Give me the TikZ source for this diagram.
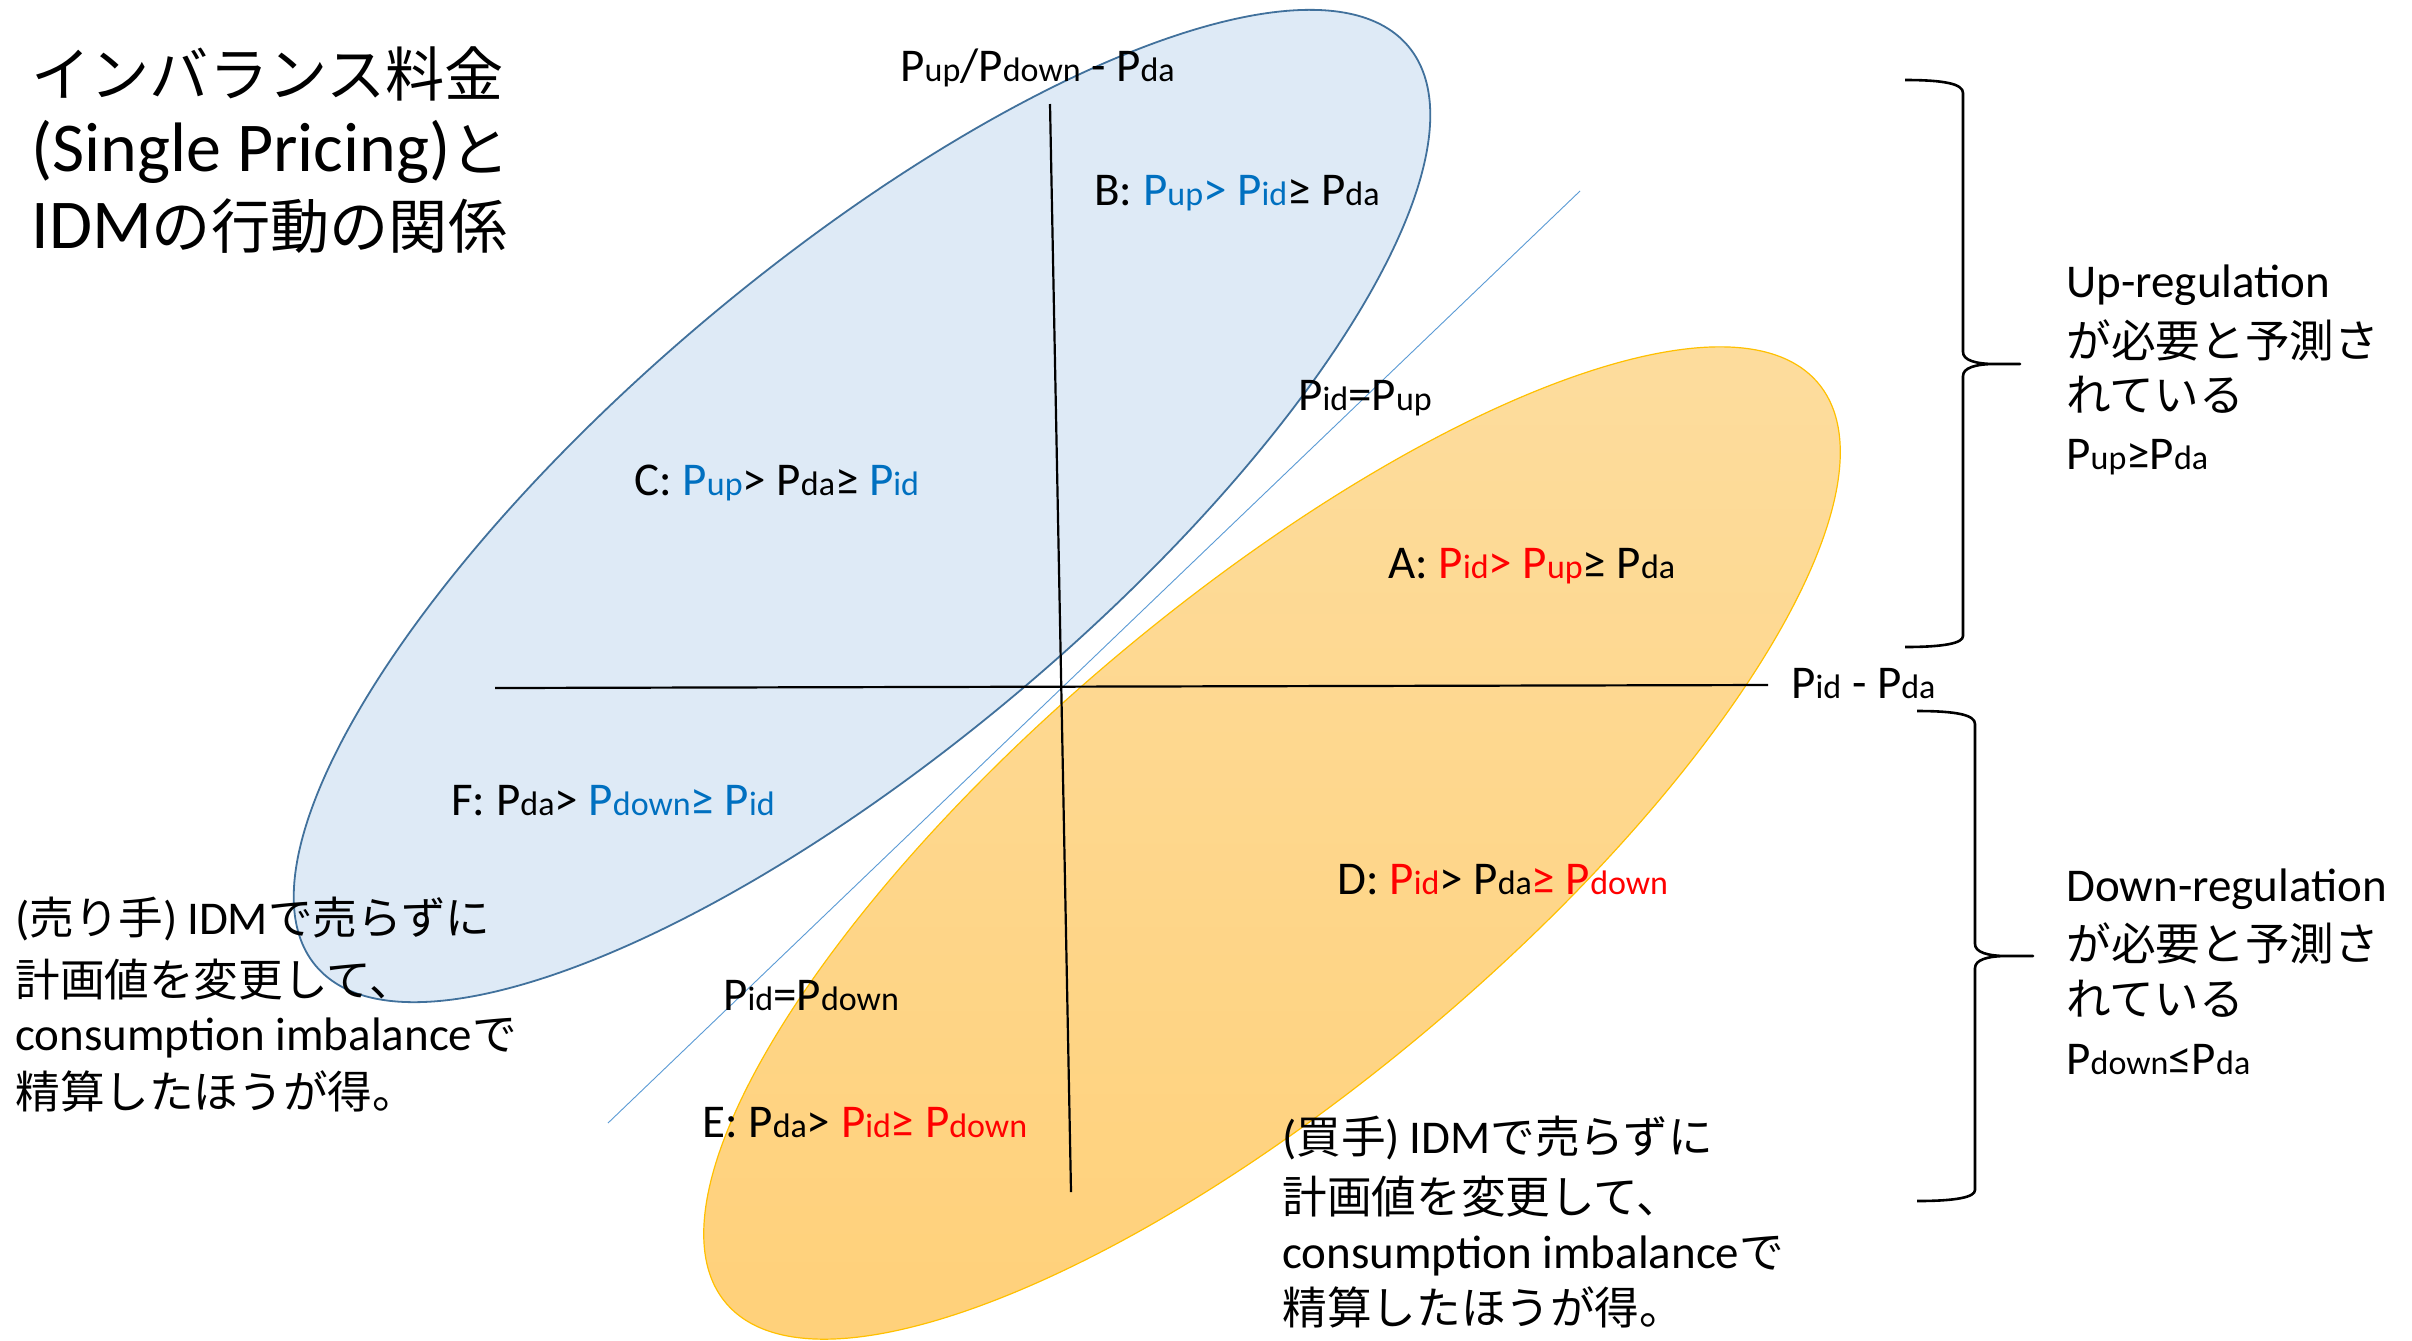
\documentclass[tikz,border=0pt]{standalone}
\usepackage{fontspec}
\setmainfont{Carlito}
\newfontfamily\jp{Noto Sans CJK JP}[Scale=0.95]
\newfontfamily\jpt{Noto Sans CJK JP}[Scale=0.846]
\definecolor{bfill}{HTML}{DEEAF6}
\definecolor{bline}{HTML}{41719C}
\definecolor{olight}{HTML}{FDDC9C}
\definecolor{odark}{HTML}{FFD17B}
\definecolor{oline}{HTML}{FFC000}
\definecolor{dline}{HTML}{5B9BD5}
\definecolor{tblue}{HTML}{0070C0}
\definecolor{tred}{HTML}{FF0000}
\newcommand\sbs[1]{{\fontsize{17pt}{20pt}\selectfont #1}}
\begin{document}
\begin{tikzpicture}[x=0.5pt,y=-0.5pt,
  lbl/.style={anchor=base west,inner sep=0pt,font=\fontsize{23.5pt}{28pt}\selectfont},
  ttl/.style={anchor=base west,inner sep=0pt,font=\fontsize{35pt}{42pt}\selectfont},
  axisline/.style={line width=1.1pt,black},
  brace/.style={line width=1.3pt,black,line join=round}]
\useasboundingbox (0,0) rectangle (2412,1340);
\fill[white] (0,0) rectangle (2412,1340);
% ellipses
\draw[bline,line width=0.9pt,fill=bfill,rotate around={40.1:(862,506)}]
  (862,506) ellipse [x radius=357pt,y radius=121.5pt];
\draw[oline,line width=0.6pt,top color=olight,bottom color=odark,rotate around={40.1:(1272,843)}]
  (1272,843) ellipse [x radius=357pt,y radius=121.5pt];
% diagonal line
\coordinate (d1) at (608,1123);
\coordinate (d2) at (1580,191);
\draw[dline,line width=0.45pt] (d1) -- (d2);
% axes
\coordinate (h1) at (495,688);
\coordinate (h2) at (1768,685);
\coordinate (v1) at (1050,104);
\coordinate (v2) at (1071,1192);
\draw[axisline] (h1) -- (h2);
\draw[axisline] (v1) -- (v2);
% braces
\draw[brace] (1905,80) .. controls (1945,80) and (1963,84) .. (1963,93)
  -- (1963,352) .. controls (1963,360) and (1975,364) .. (1995,364) -- (2020,364)
  -- (1995,364) .. controls (1975,364) and (1963,368) .. (1963,376)
  -- (1963,636) .. controls (1963,643) and (1945,647) .. (1905,647);
\draw[brace] (1917,711) .. controls (1957,711) and (1975,715) .. (1975,724)
  -- (1975,944) .. controls (1975,952) and (1987,956) .. (2007,956) -- (2033,956)
  -- (2007,956) .. controls (1987,956) and (1975,960) .. (1975,968)
  -- (1975,1190) .. controls (1975,1197) and (1957,1201) .. (1917,1201);
% title
\node[ttl] (t1) at (31,96) {\jpt インバランス料金};
\node[ttl] (t2) at (31,171) {(Single Pricing){\jpt と}};
\node[ttl] (t3) at (31,248) {IDM{\jpt の行動の関係}};
% axis labels
\node[lbl] (ylab) at (900,81) {P\sbs{up}/P\sbs{down} - P\sbs{da}};
\node[lbl] (xlab) at (1791,698) {P\sbs{id} - P\sbs{da}};
\node[lbl] (lup) at (1298,410) {P\sbs{id}=P\sbs{up}};
\node[lbl] (ldown) at (723,1010) {P\sbs{id}=P\sbs{down}};
% region labels
\node[lbl] (rB) at (1094,205) {B: \textcolor{tblue}{P\sbs{up}> P\sbs{id}}≥ P\sbs{da}};
\node[lbl] (rC) at (634,495) {C: \textcolor{tblue}{P\sbs{up}}> P\sbs{da}≥ \textcolor{tblue}{P\sbs{id}}};
\node[lbl] (rA) at (1388,578) {A: \textcolor{tred}{P\sbs{id}> P\sbs{up}}≥ P\sbs{da}};
\node[lbl] (rF) at (451,815) {F: P\sbs{da}> \textcolor{tblue}{P\sbs{down}≥ P\sbs{id}}};
\node[lbl] (rD) at (1337,894) {D: \textcolor{tred}{P\sbs{id}}> P\sbs{da}\textcolor{tred}{≥ P\sbs{down}}};
\node[lbl] (rE) at (702,1137) {E: P\sbs{da}> \textcolor{tred}{P\sbs{id}≥ P\sbs{down}}};
% right texts
\node[lbl] (u1) at (2066,297) {Up-regulation};
\node[lbl] (u2) at (2066,357) {\jp が必要と予測さ};
\node[lbl] (u3) at (2066,411) {\jp れている};
\node[lbl] (u4) at (2066,469) {P\sbs{up}≥P\sbs{da}};
\node[lbl] (w1) at (2066,901) {Down-regulation};
\node[lbl] (w2) at (2066,960) {\jp が必要と予測さ};
\node[lbl] (w3) at (2066,1015) {\jp れている};
\node[lbl] (w4) at (2066,1074) {P\sbs{down}≤P\sbs{da}};
% seller text
\node[lbl] (s1) at (15,934) {({\jp 売り手})\kern0.2em IDM{\jp で売らずに}};
\node[lbl] (s2) at (15,996) {\jp 計画値を変更して、};
\node[lbl] (s3) at (15,1050) {consumption imbalance{\jp で}};
\node[lbl] (s4) at (15,1108) {\jp 精算したほうが得。};
% buyer text
\node[lbl] (b1) at (1282,1153) {({\jp 買手})\kern0.2em IDM{\jp で売らずに}};
\node[lbl] (b2) at (1282,1213) {\jp 計画値を変更して、};
\node[lbl] (b3) at (1282,1268) {consumption imbalance{\jp で}};
\node[lbl] (b4) at (1282,1324) {\jp 精算したほうが得。};
\end{tikzpicture}
\end{document}
